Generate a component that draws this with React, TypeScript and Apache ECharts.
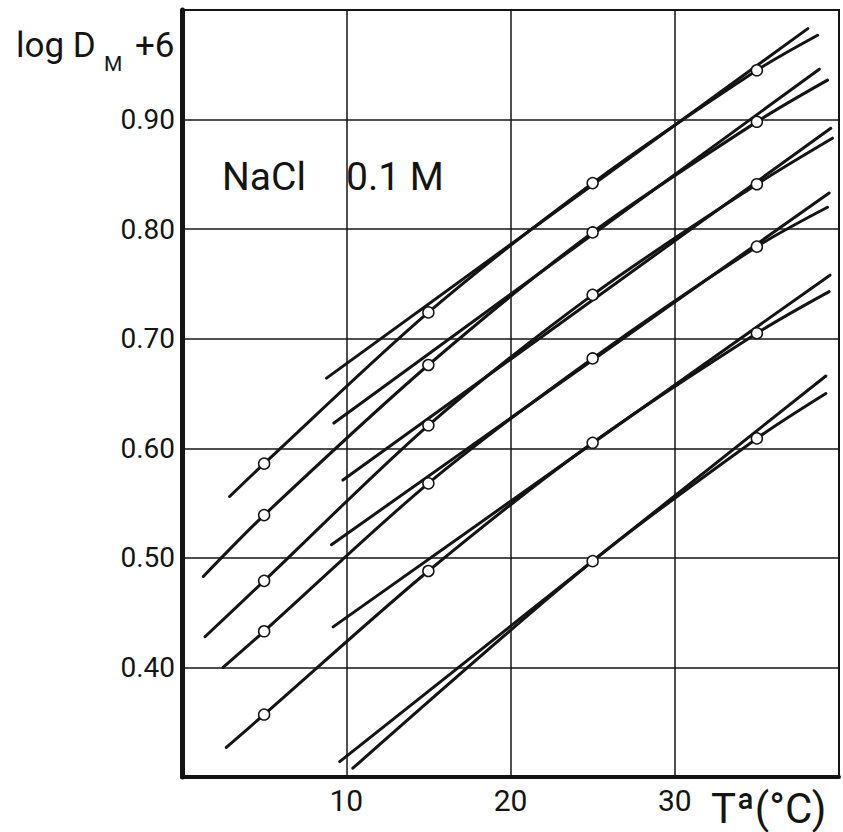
import React, { useEffect, useRef } from 'react';
import * as echarts from 'echarts';

const FONT = 'Roboto, "DejaVu Sans", sans-serif';
const INK = '#141414';

// Temperatures (°C) at which measured points (circles) are plotted
const circleTemps = [5, 15, 25, 35];

// Measured points, log D_M + 6, for the six curves (top to bottom)
const circlesA = [0.586, 0.724, 0.842, 0.945];
const circlesB = [0.539, 0.676, 0.797, 0.898];
const circlesC = [0.479, 0.621, 0.740, 0.841];
const circlesD = [0.433, 0.568, 0.682, 0.784];
const circlesE = [0.357, 0.488, 0.605, 0.705];
const circlesF = [null, null, 0.497, 0.609];

// Curve start / end points [T, value]
const curveEndsA = [[2.9, 0.556], [38.7, 0.977]];
const curveEndsB = [[1.3, 0.483], [39.3, 0.936]];
const curveEndsC = [[1.4, 0.428], [39.6, 0.883]];
const curveEndsD = [[2.5, 0.400], [39.3, 0.820]];
const curveEndsE = [[2.7, 0.327], [39.4, 0.743]];
const curveEndsF = [[10.4, 0.308], [39.2, 0.650]];

// Straight lines [T, value] start / end
const lineA = [[8.8, 0.664], [38.1, 0.983]];
const lineB = [[9.25, 0.623], [38.8, 0.946]];
const lineC = [[9.8, 0.571], [39.5, 0.892]];
const lineD = [[9.1, 0.512], [39.4, 0.833]];
const lineE = [[9.2, 0.437], [39.45, 0.758]];
const lineF = [[9.6, 0.314], [39.2, 0.666]];

// Axis ticks
const xTickValues = [10, 20, 30];
const xTickLabels = ['10', '20', '30'];
const yTickValues = [0.4, 0.5, 0.6, 0.7, 0.8, 0.9];
const yTickLabels = ['0.40', '0.50', '0.60', '0.70', '0.80', '0.90'];

const pairs = [
  { circles: circlesA, curve: curveEndsA, line: lineA },
  { circles: circlesB, curve: curveEndsB, line: lineB },
  { circles: circlesC, curve: curveEndsC, line: lineC },
  { circles: circlesD, curve: curveEndsD, line: lineD },
  { circles: circlesE, curve: curveEndsE, line: lineE },
  { circles: circlesF, curve: curveEndsF, line: lineF },
];

function buildSeries() {
  const series: any[] = [];
  pairs.forEach((p) => {
    const pts: number[][] = [];
    circleTemps.forEach((t, i) => {
      const v = p.circles[i];
      if (v != null) pts.push([t, v]);
    });
    series.push({
      type: 'line',
      data: [p.curve[0], ...pts, p.curve[1]],
      smooth: 0.3,
      symbol: 'none',
      silent: true,
      lineStyle: { width: 3, color: INK, cap: 'round' },
      z: 3,
    });
    series.push({
      type: 'line',
      data: p.line,
      symbol: 'none',
      silent: true,
      lineStyle: { width: 3, color: INK, cap: 'round' },
      z: 3,
    });
    series.push({
      type: 'scatter',
      data: pts,
      symbol: 'circle',
      symbolSize: 11,
      silent: true,
      itemStyle: { color: '#ffffff', borderColor: INK, borderWidth: 1.5, opacity: 1 },
      z: 5,
    });
  });
  return series;
}

function txt(text: string, x: number, y: number, size: number) {
  return {
    type: 'text',
    x,
    y,
    silent: true,
    style: {
      text,
      fill: INK,
      font: `${size}px ${FONT}`,
      textAlign: 'left',
      textVerticalAlign: 'middle',
      align: 'left',
      verticalAlign: 'middle',
    },
    z: 10,
  };
}

export default function App() {
  const ref = useRef<HTMLDivElement>(null);
  useEffect(() => {
    const chart = echarts.init(ref.current!, null, { renderer: 'svg' });
    chart.setOption({
      animation: false,
      backgroundColor: '#ffffff',
      grid: {
        left: 182,
        right: 4,
        top: 10,
        bottom: 55,
        show: true,
        borderColor: INK,
        borderWidth: 2,
        backgroundColor: 'transparent',
      },
      xAxis: {
        type: 'value',
        min: 0,
        max: 40,
        interval: 10,
        axisLine: { show: true, onZero: false, lineStyle: { color: INK, width: 4 } },
        axisTick: { show: false },
        splitLine: { show: true, lineStyle: { color: INK, width: 1.5 } },
        axisLabel: {
          margin: 8,
          fontSize: 30,
          fontFamily: FONT,
          color: INK,
          formatter: (v: number) => {
            const i = xTickValues.findIndex((t) => Math.abs(t - v) < 1e-6);
            return i >= 0 ? xTickLabels[i] : '';
          },
        },
      },
      yAxis: {
        type: 'value',
        min: 0.3,
        max: 1.0,
        interval: 0.1,
        axisLine: { show: true, onZero: false, lineStyle: { color: INK, width: 5 } },
        axisTick: { show: false },
        splitLine: { show: true, lineStyle: { color: INK, width: 1.5 } },
        axisLabel: {
          margin: 7,
          fontSize: 28,
          fontFamily: FONT,
          color: INK,
          formatter: (v: number) => {
            const i = yTickValues.findIndex((t) => Math.abs(t - v) < 1e-6);
            return i >= 0 ? yTickLabels[i] : '';
          },
        },
      },
      graphic: [
        txt('log D', 16, 45, 35),
        txt('M', 104, 64, 21),
        txt('+6', 135, 45, 35),
        txt('NaCl', 222, 177, 39),
        txt('0.1 M', 346, 177, 39),
        txt('Tª(°C)', 711, 808, 42),
      ],
      series: buildSeries(),
    });
    return () => chart.dispose();
  }, []);
  return (
    <div
      ref={ref}
      style={{ position: 'fixed', left: 0, top: 0, width: 843, height: 832, background: '#fff' }}
    />
  );
}
